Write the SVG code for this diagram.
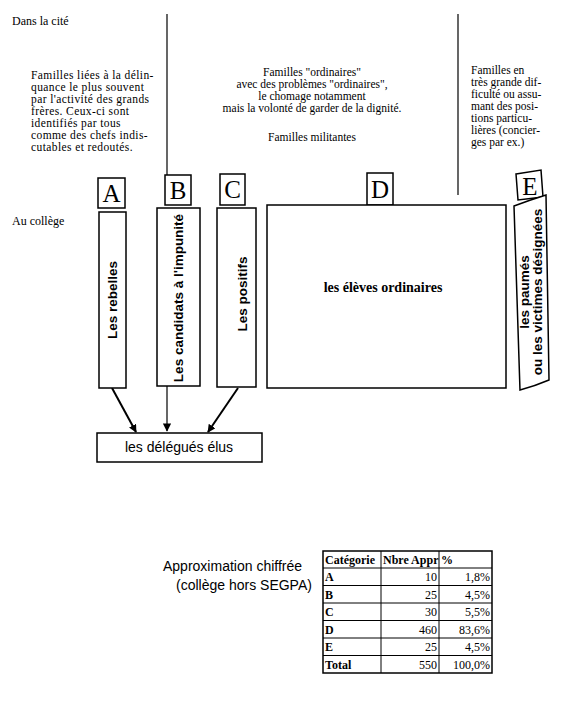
<svg xmlns="http://www.w3.org/2000/svg" width="569" height="710" viewBox="0 0 569 710">
<style>
.serif{font-family:"Liberation Serif","Times New Roman",serif;fill:#000}
.sans{font-family:"Liberation Sans",Arial,sans-serif;fill:#000}
.t{font-size:11.5px}
.lbl{font-family:"Liberation Serif",serif;font-size:25px;text-anchor:middle}
.box{fill:#fff;stroke:#000;stroke-width:1.5}
.cell{fill:none;stroke:#000;stroke-width:1}
.vl{font-family:"Liberation Sans",Arial,sans-serif;font-weight:bold;font-size:13.5px;text-anchor:middle}
.tb{font-family:"Liberation Serif",serif;font-size:12px}
.b{font-weight:bold}
.r{text-anchor:end}
.line{stroke:#000;fill:none}
</style>
<defs>
<marker id="ah" viewBox="0 0 10 10" refX="9" refY="5" markerWidth="4" markerHeight="4" orient="auto" markerUnits="strokeWidth">
<path d="M0,0 L10,5 L0,10 z" fill="#000"/>
</marker>
<marker id="ah2" viewBox="0 0 10 10" refX="9" refY="5" markerWidth="7" markerHeight="7" orient="auto" markerUnits="strokeWidth">
<path d="M0,0 L10,5 L0,10 z" fill="#000"/>
</marker>
<clipPath id="c1"><rect x="323" y="551" width="58" height="17"/></clipPath>
<clipPath id="c2"><rect x="381" y="551" width="58" height="17"/></clipPath>
</defs>

<text class="serif" x="12" y="25" font-size="12">Dans la cité</text>
<text class="serif" x="12" y="225" font-size="12">Au collège</text>

<g id="txt-left" class="serif t" letter-spacing="0.4">
<text x="31" y="79">Familles liées à la délin-</text>
<text x="31" y="91">quance le plus souvent</text>
<text x="31" y="103">par l'activité des grands</text>
<text x="31" y="115">frères. Ceux-ci sont</text>
<text x="31" y="127">identifiés par tous</text>
<text x="31" y="139">comme des chefs indis-</text>
<text x="31" y="151">cutables et redoutés.</text>
</g>

<g id="txt-mid" class="serif t" text-anchor="middle">
<text x="312" y="76">Familles "ordinaires"</text>
<text x="312" y="88">avec des problèmes "ordinaires",</text>
<text x="312" y="100">le chomage notamment</text>
<text x="312" y="112">mais la volonté de garder de la dignité.</text>
<text x="312" y="141">Familles militantes</text>
</g>

<g id="txt-right" class="serif t">
<text x="471" y="74">Familles en</text>
<text x="471" y="86">très grande dif-</text>
<text x="471" y="98">ficulté ou assu-</text>
<text x="471" y="110">mant des posi-</text>
<text x="471" y="122">tions particu-</text>
<text x="471" y="134">lières (concier-</text>
<text x="471" y="146">ges par ex.)</text>
</g>

<g id="connectors">
<line class="line" x1="167" y1="14" x2="167" y2="176" stroke-width="1.2"/>
<line class="line" x1="458" y1="14" x2="458" y2="195" stroke-width="1.2"/>
<line class="line" x1="112" y1="388" x2="136" y2="432" stroke-width="2" marker-end="url(#ah)"/>
<line class="line" x1="167" y1="386" x2="167" y2="431" stroke-width="1.2" marker-end="url(#ah2)"/>
<line class="line" x1="238" y1="388" x2="208" y2="432" stroke-width="2" marker-end="url(#ah)"/>
</g>

<g id="node-A">
<rect class="box" x="98" y="178" width="27" height="30"/>
<text class="lbl" x="111.5" y="202">A</text>
<rect class="box" x="99" y="212" width="27" height="176"/>
<text class="vl" transform="translate(117,300) rotate(-90)">Les rebelles</text>
</g>

<g id="node-B">
<rect class="box" x="165" y="175" width="26" height="30"/>
<text class="lbl" x="178" y="199">B</text>
<rect class="box" x="157" y="208" width="43" height="178"/>
<text class="vl" transform="translate(183,298) rotate(-90)">Les candidats à l'impunité</text>
</g>

<g id="node-C">
<rect class="box" x="220" y="174" width="25" height="31"/>
<text class="lbl" x="232.5" y="198">C</text>
<rect class="box" x="217" y="208" width="39" height="179"/>
<text class="vl" transform="translate(247,294) rotate(-90)">Les positifs</text>
</g>

<g id="node-D">
<rect class="box" x="367" y="173" width="26" height="32"/>
<text class="lbl" x="380" y="198">D</text>
<rect class="box" x="267" y="205" width="239" height="183"/>
<text class="serif b" x="383" y="292" font-size="14" text-anchor="middle">les élèves ordinaires</text>
</g>

<g id="node-E">
<path class="box" d="M516,174 L541,170 L543,197 L518,200 z"/>
<text class="lbl" x="530" y="195">E</text>
<path class="box" d="M514,206 Q530,200 546,195 L549,380 Q535,386 520,390 Q517,300 514,206 z"/>
<g transform="translate(532,292) rotate(-90)">
<text class="vl" font-size="11" x="0" y="-3">les paumés</text>
<text class="vl" font-size="11" x="0" y="10">ou les victimes désignées</text>
</g>
</g>

<g id="node-delegues">
<rect class="box" x="97" y="433" width="165" height="29"/>
<text class="sans" x="179" y="452" font-size="14" text-anchor="middle">les délégués élus</text>
</g>

<g id="caption">
<text class="sans" x="163" y="571" font-size="14">Approximation chiffrée</text>
<text class="sans" x="176" y="590" font-size="14">(collège hors SEGPA)</text>
</g>

<g id="table">
<rect x="323" y="551" width="169" height="122" fill="#fff" stroke="#000" stroke-width="1.5"/>
<line class="cell" x1="381" y1="551" x2="381" y2="673"/>
<line class="cell" x1="439" y1="551" x2="439" y2="673"/>
<line class="cell" x1="323" y1="568" x2="492" y2="568"/>
<line class="cell" x1="323" y1="585.5" x2="492" y2="585.5"/>
<line class="cell" x1="323" y1="603" x2="492" y2="603"/>
<line class="cell" x1="323" y1="620.5" x2="492" y2="620.5"/>
<line class="cell" x1="323" y1="638" x2="492" y2="638"/>
<line class="cell" x1="323" y1="655.5" x2="492" y2="655.5"/>
<g class="tb b">
<text x="325" y="564" clip-path="url(#c1)">Catégorie</text>
<text x="383" y="564" clip-path="url(#c2)">Nbre Appr</text>
<text x="441" y="564">%</text>
<text x="325" y="581">A</text>
<text x="325" y="598.5">B</text>
<text x="325" y="616">C</text>
<text x="325" y="633.5">D</text>
<text x="325" y="651">E</text>
<text x="325" y="668.5">Total</text>
</g>
<g class="tb r">
<text x="437" y="581">10</text>
<text x="437" y="598.5">25</text>
<text x="437" y="616">30</text>
<text x="437" y="633.5">460</text>
<text x="437" y="651">25</text>
<text x="437" y="668.5">550</text>
<text x="490" y="581">1,8%</text>
<text x="490" y="598.5">4,5%</text>
<text x="490" y="616">5,5%</text>
<text x="490" y="633.5">83,6%</text>
<text x="490" y="651">4,5%</text>
<text x="490" y="668.5">100,0%</text>
</g>
</g>
</svg>
